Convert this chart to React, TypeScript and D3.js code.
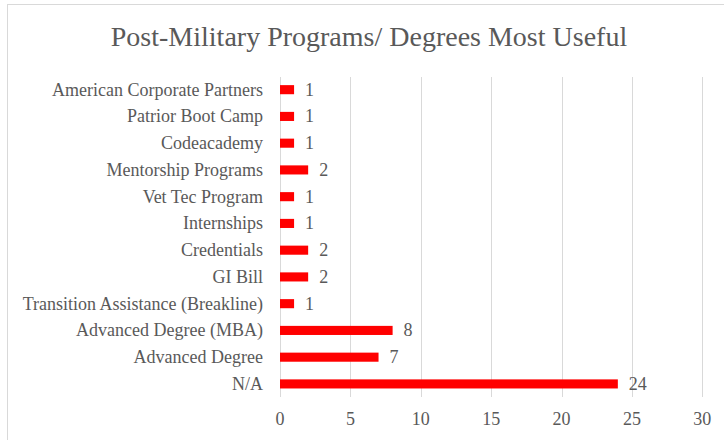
import React from "react";
import * as d3 from "d3";

const categories = [
  "American Corporate Partners",
  "Patrior Boot Camp",
  "Codeacademy",
  "Mentorship Programs",
  "Vet Tec Program",
  "Internships",
  "Credentials ",
  "GI Bill",
  "Transition Assistance (Breakline)",
  "Advanced Degree (MBA)",
  "Advanced Degree",
  "N/A",
];
const values = [1, 1, 1, 2, 1, 1, 2, 2, 1, 8, 7, 24];
const xTicks = [0, 5, 10, 15, 20, 25, 30];
const title = "Post-Military Programs/ Degrees Most Useful";

const W = 724;
const H = 440;
const FONT = "Liberation Serif, Times New Roman, serif";
const TXT = "#595959";

export default function App() {
  const x = d3.scaleLinear().domain([0, 30]).range([280, 702.3]);
  const y = d3
    .scaleBand<string>()
    .domain(categories)
    .range([76.3, 397.3])
    .paddingInner(0.66)
    .paddingOuter(0.33);

  const ts = { fontFamily: FONT } as React.CSSProperties;

  return (
    <svg
      width={W}
      height={H}
      style={{ position: "absolute", left: 0, top: 0, display: "block", fontFamily: FONT }}
    >
      <rect x={0} y={0} width={W} height={H} fill="#ffffff" />
      <rect
        x={7.5}
        y={4.5}
        width={W + 10}
        height={H + 10}
        fill="none"
        stroke="#d9d9d9"
        strokeWidth={1}
      />
      <text x={369} y={46} textAnchor="middle" style={ts} fontSize={28} fill={TXT}>
        {title}
      </text>
      {xTicks.map((t) => (
        <g key={t}>
          <line
            x1={Math.round(x(t)) + 0.5}
            x2={Math.round(x(t)) + 0.5}
            y1={77}
            y2={397}
            stroke="#d9d9d9"
            strokeWidth={1}
          />
          <text x={x(t)} y={425} textAnchor="middle" style={ts} fontSize={18} fill={TXT}>
            {t}
          </text>
        </g>
      ))}
      {categories.map((c, i) => {
        const yc = (y(c) as number) + y.bandwidth() / 2;
        return (
          <g key={c}>
            <rect
              x={x(0)}
              y={y(c) as number}
              width={x(values[i]) - x(0)}
              height={y.bandwidth()}
              fill="#ff0000"
            />
            <text
              x={263}
              y={yc}
              dy="0.33em"
              textAnchor="end"
              style={ts}
              fontSize={18}
              fill={TXT}
            >
              {c}
            </text>
            <text x={x(values[i]) + 11} y={yc} dy="0.33em" style={ts} fontSize={18} fill={TXT}>
              {values[i]}
            </text>
          </g>
        );
      })}
    </svg>
  );
}
